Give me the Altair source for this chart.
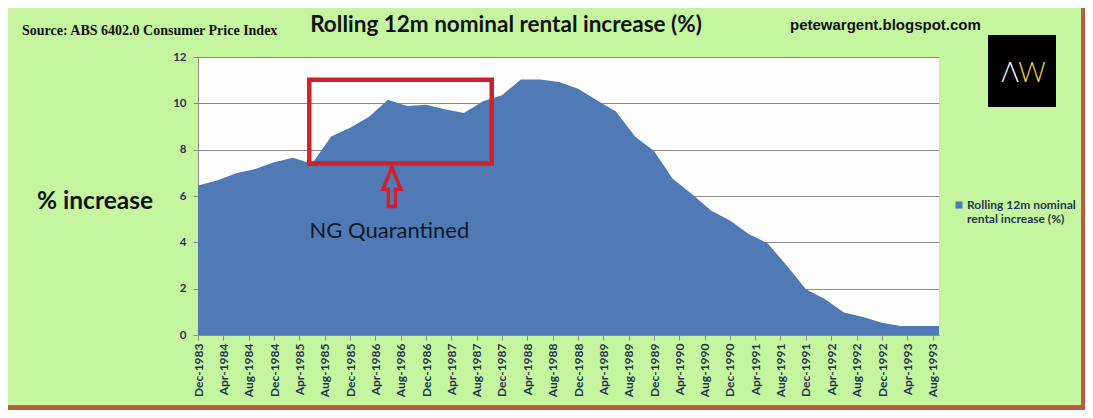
import altair as alt
import pandas as pd

# ---- data ----
quarters = ["1983-12-01"] + [f"{y}-{m:02d}-01" for y in range(1984, 1994) for m in (3, 6, 9, 12)][:39]
rent_increase = [
    6.45, 6.67, 6.98, 7.17, 7.46, 7.65, 7.39, 8.57, 8.95, 9.41,
    10.16, 9.88, 9.94, 9.74, 9.58, 10.09, 10.35, 11.03, 11.03, 10.92,
    10.63, 10.13, 9.65, 8.57, 7.94, 6.74, 6.09, 5.37, 4.94, 4.36,
    3.95, 2.99, 1.98, 1.55, 0.97, 0.78, 0.53, 0.39, 0.39, 0.39,
]
series_name = "Rolling 12m nominal rental increase (%)"
tick_dates = ["1983-12-01"] + [f"{y}-{m:02d}-01" for y in range(1984, 1994) for m in (4, 8, 12)][:29]
y_ticks = [0, 2, 4, 6, 8, 10, 12]

# annotation (box around quarantine period, arrow, label)
box_x = ["1985-05-19"]
box_x2 = ["1987-10-13"]
box_y = [7.40]
box_y2 = [11.02]
arrow_x = ["1986-06-20"]
arrow_y = [6.39]
note_x = ["1986-06-08"]
note_y = [4.18]
note_text = ["NG Quarantined"]

BLUE = "#4f7ab6"
RED = "#d0202c"
GREEN = "#c6f5a0"
BORDER = "#bf5a3e"
LABEL = "#1f3550"

df = pd.DataFrame({"date": quarters, "value": rent_increase, "series": series_name})


def utc_ms(s):
    return int(pd.Timestamp(s, tz="UTC").value // 10**6)


x_scale = alt.Scale(type="utc", domain=[utc_ms("1983-12-01"), utc_ms("1993-09-01")], nice=False)
y_scale = alt.Scale(domain=[0, 12], nice=False)

x_axis = alt.Axis(
    values=[utc_ms(d) for d in tick_dates], tickCount=len(tick_dates) + 5,
    format="%b-%Y", labelAngle=-90, grid=False, title=None,
    labelOverlap=False, labelBound=False,
    labelFont="Lato", labelFontSize=12, labelFontWeight="bold", labelColor=LABEL,
    domainColor="#8a8a8a", tickColor="#8a8a8a", tickSize=5, labelPadding=3,
)
y_axis = alt.Axis(
    values=y_ticks, tickCount=len(y_ticks) + 2, title=None, grid=True,
    gridColor="#8a8a8a", gridWidth=1,
    labelFont="Lato", labelFontSize=11.5, labelFontWeight="bold", labelColor=LABEL,
    domainColor="#8a8a8a", tickColor="#8a8a8a", tickSize=5, labelPadding=7,
)

area = alt.Chart(df).mark_area(opacity=1, interpolate="linear").encode(
    x=alt.X("date:T", scale=x_scale, axis=x_axis),
    y=alt.Y("value:Q", scale=y_scale, axis=y_axis),
    color=alt.Color("series:N", scale=alt.Scale(range=[BLUE]), legend=alt.Legend(
        orient="none", legendX=755, legendY=142, title=None,
        symbolType="square", symbolSize=49, symbolStrokeWidth=0,
        labelExpr="['Rolling 12m nominal', 'rental increase (%)']",
        labelFont="Lato", labelFontSize=12, labelFontWeight="bold", labelColor=LABEL,
        labelOffset=2, labelLimit=300, padding=0,
    )),
)

box = alt.Chart(pd.DataFrame({"x": box_x, "x2": box_x2, "y": box_y, "y2": box_y2})).mark_rect(
    fillOpacity=0, stroke=RED, strokeWidth=4.5
).encode(x="x:T", x2="x2:T", y="y:Q", y2="y2:Q")

arrow_path = "M0,-1 L0.46,0.12 L0.18,0.12 L0.18,1 L-0.18,1 L-0.18,0.12 L-0.46,0.12 Z"
arrow = alt.Chart(pd.DataFrame({"x": arrow_x, "y": arrow_y})).mark_point(
    shape=arrow_path, size=1521, filled=False, stroke=RED, strokeWidth=3.5, opacity=1
).encode(x="x:T", y="y:Q")

note = alt.Chart(pd.DataFrame({"x": note_x, "y": note_y, "t": note_text})).mark_text(
    font="Lato", fontSize=22, color="#111827", align="center", baseline="alphabetic"
).encode(x="x:T", y="y:Q", text="t:N")

one = pd.DataFrame({"a": [0]})


def label(txt, x, y, **kw):
    return alt.Chart(one).mark_text(**kw).encode(
        x=alt.value(x), y=alt.value(y), text=alt.value(txt))


def block(x, x2, y, y2, color):
    return alt.Chart(one).mark_rect(color=color).encode(
        x=alt.value(x), x2=alt.value(x2), y=alt.value(y), y2=alt.value(y2))


source = label("Source: ABS 6402.0 Consumer Price Index", -176, -22, font="Liberation Serif",
               fontSize=14, fontWeight="bold", color="#111111", align="left", baseline="alphabetic")
title = label("Rolling 12m nominal rental increase (%)", 308, -25, font="Lato", fontSize=22.5,
              fontWeight="bold", color="#111111", align="center", baseline="alphabetic")
site = label("petewargent.blogspot.com", 592, -27, font="Liberation Sans", fontSize=15,
             fontWeight="bold", color="#111111", align="left", baseline="alphabetic")
ylab = label("% increase", -161, 152, font="Lato", fontSize=24.5, fontWeight="bold",
             color="#111111", align="left", baseline="alphabetic")
logo = block(790, 858, -22, 50, "#000000")
logo_a = label("Λ", 812, 25, font="Lato", fontSize=27, fontWeight=300, color="#ffffff",
               align="center", baseline="alphabetic")
logo_w = label("W", 834, 25, font="Lato", fontSize=27, fontWeight=300, color="#e6d040",
               align="center", baseline="alphabetic")
border_r = block(883, 890, -49, 353, BORDER)
border_b = block(-190, 890, 348, 353, BORDER)

chart = alt.layer(
    area, box, arrow, note, source, title, site, ylab, logo, logo_a, logo_w, border_r, border_b
).properties(
    width=741, height=278,
    autosize=alt.AutoSizeParams(type="none"),
    padding={"left": 190, "top": 49, "right": 146, "bottom": 75},
    background=GREEN,
).configure_view(fill="#fefefe", stroke=None).configure_axis(labelOverlap=False)

chart.save("out.html", embed_options={"renderer": "svg", "actions": False})
